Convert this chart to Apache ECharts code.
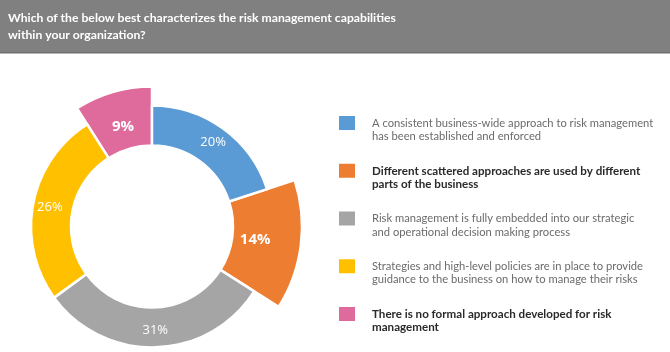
<!DOCTYPE html>
<html>
<head>
<meta charset="utf-8">
<script src="https://cdn.jsdelivr.net/npm/echarts@6/dist/echarts.min.js"></script>
<style>
  html, body { margin: 0; padding: 0; background: #fff; }
  #chart { width: 670px; height: 352px; }
</style>
</head>
<body>
<div id="chart"></div>
<script>
// data
const titleText = 'Which of the below best characterizes the risk management capabilities\nwithin your organization?';
const categories = [
    'A consistent business-wide approach to risk management\nhas been established and enforced',
    'Different scattered approaches are used by different\nparts of the business',
    'Risk management is fully embedded into our strategic\nand operational decision making process',
    'Strategies and high-level policies are in place to provide\nguidance to the business on how to manage their risks',
    'There is no formal approach developed for risk\nmanagement'
];
const values = [20, 14, 31, 26, 9];
const emphasized = [false, true, false, false, true];

// style
const colors = ['#5B9BD5', '#ED7D31', '#A5A5A5', '#FFC000', '#DF6A9C'];
const popOut = { 1: 150, 4: 140 }; // slice index -> outer radius
const center = [152, 226.5];
const innerR = 81;
const outerR = 121;

const chart = echarts.init(document.getElementById('chart'));

// ring utama, slice yang menonjol dibuat transparan tapi labelnya tetap
const baseData = values.map((v, i) => {
    const popped = popOut[i] !== undefined;
    return {
        name: categories[i],
        value: v,
        itemStyle: {
            color: popped ? 'transparent' : colors[i],
            borderColor: popped ? 'transparent' : '#fff',
            borderWidth: popped ? 0 : 2.5
        },
        label: {
            fontWeight: emphasized[i] ? 'bold' : 'normal',
            fontSize: emphasized[i] ? 15 : 13
        }
    };
});

const series = [{
    type: 'pie',
    z: 3,
    center: center,
    radius: [innerR, outerR],
    startAngle: 90,
    silent: true,
    emphasis: { disabled: true },
    avoidLabelOverlap: false,
    label: {
        show: true,
        position: 'inside',
        formatter: '{c}%',
        color: '#fff',
        fontFamily: 'Open Sans'
    },
    labelLine: { show: false },
    data: baseData
}];

// slice yang lebih besar
Object.keys(popOut).forEach(k => {
    const idx = Number(k);
    series.push({
        type: 'pie',
        z: 2,
        center: center,
        radius: [innerR, popOut[k]],
        startAngle: 90,
        silent: true,
        emphasis: { disabled: true },
        label: { show: false },
        labelLine: { show: false },
        data: values.map((v, i) => ({
            name: categories[i],
            value: v,
            itemStyle: {
                color: i === idx ? colors[i] : 'transparent',
                borderColor: i === idx ? '#fff' : 'transparent',
                borderWidth: i === idx ? 2.5 : 0
            }
        }))
    });
});

// legend manual (ikon sejajar baris pertama)
const legendX = 339;
const legendTop = 123;
const legendStep = 47.75;
const lineH = 13.5;
const graphics = [{
    type: 'rect',
    z: -10,
    shape: { x: 0, y: 0, width: 670, height: 52 },
    style: { fill: '#808080' }
}, {
    type: 'rect',
    z: -10,
    shape: { x: 0, y: 52, width: 670, height: 1.5 },
    style: { fill: '#6f6f6f' }
}];
categories.forEach((c, i) => {
    const cy = legendTop + i * legendStep;
    graphics.push({
        type: 'rect',
        shape: { x: legendX, y: cy - 7, width: 16, height: 14 },
        style: { fill: colors[i] }
    });
    graphics.push({
        type: 'text',
        x: 372,
        y: cy - lineH / 2,
        style: {
            text: c,
            fill: emphasized[i] ? '#2a2a2a' : '#6b6b6b',
            font: emphasized[i] ? 'bold 11.6px Lato' : '11.2px Lato',
            lineHeight: lineH,
            verticalAlign: 'top'
        }
    });
});

chart.setOption({
    animation: false,
    title: {
        text: titleText,
        left: 8,
        top: 9,
        padding: 0,
        textStyle: {
            color: '#fff',
            fontSize: 12.2,
            fontWeight: 'bold',
            lineHeight: 17.5,
            fontFamily: 'Lato'
        }
    },
    graphic: graphics,
    series: series
});
</script>
</body>
</html>
